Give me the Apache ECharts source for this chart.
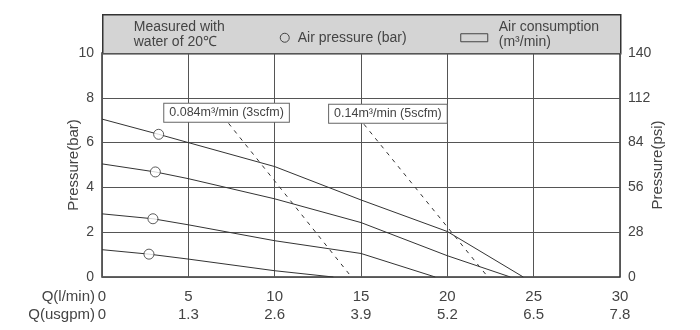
<!DOCTYPE html>
<html>
<head>
<meta charset="utf-8">
<script src="https://cdn.jsdelivr.net/npm/echarts@6/dist/echarts.min.js"></script>
<style>
  html, body { margin: 0; padding: 0; background: #fff; }
  #chart { width: 700px; height: 330px; }
</style>
</head>
<body>
<div id="chart"></div>
<script>
// Flow axis: litres per minute and the matching US gallons per minute
const qLpmTicks = [0, 5, 10, 15, 20, 25, 30];
const qUsgpmTicks = ['0', '1.3', '2.6', '3.9', '5.2', '6.5', '7.8'];

// Discharge pressure (bar) against flow (l/min), one curve per supply air pressure
const pressureCurve7 = [[0, 7.05], [3.28, 6.37], [5, 6.0], [10, 4.93], [15, 3.44], [20, 2.03], [24.4, 0]];
const pressureCurve5 = [[0, 5.05], [3.09, 4.69], [5, 4.39], [10, 3.49], [15, 2.43], [20, 0.95], [23.65, 0]];
const pressureCurve3 = [[0, 2.82], [2.95, 2.60], [5, 2.33], [10, 1.62], [15, 1.05], [19.3, 0]];
const pressureCurve1 = [[0, 1.22], [2.72, 1.02], [5, 0.80], [10, 0.28], [13.4, 0]];

// Air pressure markers sitting on each curve
const airPressureMarks = [[3.28, 6.37], [3.09, 4.69], [2.95, 2.60], [2.72, 1.02]];

// Constant air consumption lines
const airUse3scfm = [[7.33, 6.86], [14.45, 0]];
const airUse5scfm = [[15.17, 6.82], [22.35, 0]];
const airUseLabels = ['0.084m³/min (3scfm)', '0.14m³/min (5scfm)'];

const FONT = '"Liberation Sans", Arial, Helvetica, sans-serif';
const INK = '#444';
const GRID = { left: 102, right: 80, top: 53, bottom: 53 };

const chart = echarts.init(document.getElementById('chart'), null, { renderer: 'canvas' });

function pressureSeries(data) {
  return {
    type: 'line', data: data, symbol: 'none', silent: true,
    lineStyle: { color: '#333', width: 1 }, z: 3
  };
}

function airUseSeries(data, text, offset) {
  return {
    type: 'line', symbol: 'circle', symbolSize: 1, showSymbol: true, silent: true, z: 4,
    itemStyle: { color: 'rgba(0,0,0,0)' },
    lineStyle: { color: '#333', width: 1, type: [4, 5] },
    data: data.map((p, i) => i === 0 ? {
      value: p,
      label: {
        show: true, position: 'top', distance: 1, offset: offset,
        formatter: text, fontFamily: FONT, fontSize: 12.5, color: INK,
        lineHeight: 12, backgroundColor: '#fff', borderColor: '#666',
        borderWidth: 1, padding: [3, 5]
      }
    } : { value: p })
  };
}

const headerTop = 14;
const headerH = GRID.top - headerTop;
const headerW = 700 - GRID.left - GRID.right;

chart.setOption({
  animation: false,
  backgroundColor: '#fff',
  textStyle: { fontFamily: FONT },
  grid: Object.assign({ show: true, borderColor: '#333', borderWidth: 1.5, containLabel: false }, GRID),
  xAxis: {
    type: 'value', min: 0, max: 30, interval: 5,
    axisLine: { show: false }, axisTick: { show: false },
    splitLine: { show: true, lineStyle: { color: '#555', width: 1 } },
    axisLabel: {
      margin: 11, fontSize: 15, color: INK, lineHeight: 18, verticalAlign: 'top',
      formatter: v => {
        const i = qLpmTicks.indexOf(v);
        return v + '\n' + (i >= 0 ? qUsgpmTicks[i] : '');
      }
    },
    name: 'Q(l/min)\nQ(usgpm)', nameLocation: 'start', nameGap: 7, nameMoveOverlap: false,
    nameTextStyle: {
      fontSize: 15, color: INK, lineHeight: 18, align: 'right',
      verticalAlign: 'top', padding: [11, 0, 0, 0]
    }
  },
  yAxis: [{
    type: 'value', min: 0, max: 10, interval: 2, position: 'left',
    axisLine: { show: false }, axisTick: { show: false },
    splitLine: { show: true, lineStyle: { color: '#555', width: 1 } },
    axisLabel: { margin: 8, fontSize: 14, color: INK },
    name: 'Pressure(bar)', nameLocation: 'middle', nameGap: 21, nameMoveOverlap: false,
    nameTextStyle: { fontSize: 15, color: INK }
  }, {
    type: 'value', min: 0, max: 140, interval: 28, position: 'right',
    axisLine: { show: false }, axisTick: { show: false },
    splitLine: { show: false },
    axisLabel: { margin: 8, fontSize: 14, color: INK },
    name: 'Pressure(psi)', nameLocation: 'middle', nameGap: 30, nameMoveOverlap: false,
    nameTextStyle: { fontSize: 15, color: INK }
  }],
  series: [
    pressureSeries(pressureCurve7),
    pressureSeries(pressureCurve5),
    pressureSeries(pressureCurve3),
    pressureSeries(pressureCurve1),
    airUseSeries(airUse3scfm, airUseLabels[0], [-2, 0]),
    airUseSeries(airUse5scfm, airUseLabels[1], [24, 0]),
    {
      type: 'scatter', data: airPressureMarks, symbol: 'circle', symbolSize: 10,
      silent: true, z: 5,
      itemStyle: { color: '#fff', borderColor: '#333', borderWidth: 1 }
    }
  ],
  graphic: [{
    type: 'group', left: GRID.left, top: headerTop,
    children: [
      {
        type: 'rect', shape: { x: 0, y: 0, width: headerW, height: headerH },
        style: { fill: '#d4d4d4', stroke: '#333', lineWidth: 1.5 }
      },
      {
        type: 'text', x: 31, y: 5,
        style: { text: 'Measured with\nwater of 20℃', font: '14px ' + FONT, fill: INK, lineHeight: 15 }
      },
      {
        type: 'circle', shape: { cx: 182, cy: 23, r: 4.5 },
        style: { fill: 'none', stroke: '#444', lineWidth: 1 }
      },
      {
        type: 'text', x: 195, y: 16,
        style: { text: 'Air pressure (bar)', font: '14px ' + FONT, fill: INK }
      },
      {
        type: 'rect', shape: { x: 358, y: 19, width: 27, height: 8 },
        style: { fill: 'none', stroke: '#444', lineWidth: 1 }
      },
      {
        type: 'text', x: 396, y: 5,
        style: { text: 'Air consumption\n(m³/min)', font: '14px ' + FONT, fill: INK, lineHeight: 15 }
      }
    ]
  }]
});
</script>
</body>
</html>
